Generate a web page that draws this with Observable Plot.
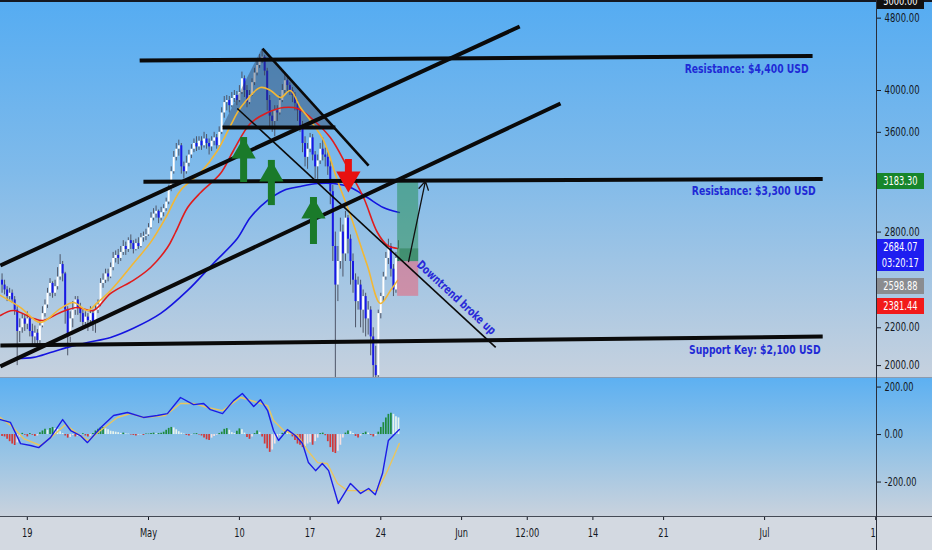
<!DOCTYPE html>
<html>
<head>
<meta charset="utf-8">
<script src="https://cdn.jsdelivr.net/npm/d3@7"></script>
<script src="https://cdn.jsdelivr.net/npm/@observablehq/plot@0.6"></script>
<style>
html,body{margin:0;padding:0;background:#d3d9e1;}
#wrap{position:relative;width:932px;height:550px;overflow:hidden;font-family:"Liberation Sans Narrow","DejaVu Sans Condensed","DejaVu Sans",sans-serif;}
.abs{position:absolute;}
#bgMain{left:0;top:0;width:932px;height:377px;background:linear-gradient(180deg,#55acf2 0%,#7fbaea 45%,#c6d1de 100%);}
#bgInd{left:0;top:377px;width:932px;height:139px;background:linear-gradient(180deg,#5cb0f2 0%,#92c2e6 50%,#c9d2dd 100%);}
#bgAxis{left:0;top:516px;width:932px;height:34px;background:#d3d9e1;}
.tag{position:absolute;left:877px;width:47px;color:#fff;font-size:11.5px;text-align:center;line-height:16px;}
.tag span{display:inline-block;transform:scaleX(0.8);}
#wrap svg{position:absolute;left:0;}
</style>
</head>
<body>
<div id="wrap">
  <div id="bgMain" class="abs"></div>
  <div id="bgInd" class="abs"></div>
  <div id="bgAxis" class="abs"></div>
</div>
<script>
// ---------- DATA ----------
const firstCandle = "04-16 12";   // 6h candles
const firstOpen = 2480;
const closes = [2450,2420,
 2380,2400,2360,2300, 2180,2200,2250,2220, 2250,2180,2150,2170, 2130,2210,2280,2330,
 2400,2460,2400,2440, 2500,2580,2520,2300, 2150,2250,2300,2360, 2310,2280,2230,2260,
 2240,2280,2220,2300, 2330,2460,2480,2520, 2500,2560,2620,2640, 2620,2660,2700,2680,
 2740,2720,2680,2720, 2700,2760,2770,2780,
 2830,2900,2930,2950, 2900,2940,2970,3020, 3120,3260,3380,3450, 3480,3300,3260,3330,
 3400,3450,3500,3470, 3520,3480,3540,3500, 3470,3520,3550,3480, 3600,3780,3880,3900,
 3850,3920,3950,3900, 3980,4120,4000,3880, 3950,4080,4180,4260, 4320,4350,4200,3900,
 3750,3700,3800,3780, 3900,4000,4100,4050, 4000,3950,3870,3800, 3650,3500,3380,3450,
 3550,3400,3300,3350, 3450,3400,3380,3300, 3100,2700,2450,2600, 2800,2650,2900,2750,
 2600,2480,2350,2450, 2300,2380,2250,2300, 2150,2000,1950,2280, 2380,2500,2620,2700,
 2550,2420,2620,2684];
const highs = [2520,2480,
 2440,2430,2420,2380, 2320,2250,2280,2270, 2290,2260,2220,2210, 2190,2240,2320,2360,
 2430,2490,2470,2480, 2560,2645,2600,2530, 2320,2290,2350,2380, 2380,2340,2300,2290,
 2280,2320,2300,2330, 2360,2490,2520,2550, 2550,2590,2660,2670, 2680,2700,2740,2730,
 2760,2780,2740,2750, 2760,2790,2800,2820,
 2860,2940,2970,2990, 2960,2980,3000,3050, 3150,3300,3430,3500, 3530,3500,3340,3390,
 3440,3490,3540,3560, 3560,3560,3600,3580, 3540,3560,3600,3580, 3650,3830,3940,3950,
 3940,3980,4000,3990, 4050,4190,4150,4050, 4000,4120,4230,4300, 4380,4420,4370,4230,
 3950,3800,3850,3850, 3950,4060,4170,4150, 4080,4030,3980,3900, 3830,3700,3560,3500,
 3590,3580,3430,3400, 3500,3550,3460,3420, 3350,3150,2800,2700, 2900,2850,2950,2920,
 2780,2650,2520,2500, 2480,2420,2400,2350, 2320,2200,2100,2300, 2400,2530,2660,2750,
 2720,2580,2660,2740];
const lows = [2400,2390,
 2350,2360,2340,2270, 2000,2120,2170,2180, 2190,2150,2100,2110, 2090,2110,2200,2260,
 2310,2380,2370,2380, 2420,2480,2470,2220, 2050,2120,2200,2270, 2270,2230,2200,2200,
 2180,2210,2180,2170, 2280,2320,2430,2460, 2470,2490,2540,2590, 2580,2600,2640,2640,
 2660,2680,2650,2670, 2680,2690,2730,2740,
 2770,2820,2880,2900, 2860,2880,2910,2950, 3000,3100,3240,3350, 3390,3240,3200,3240,
 3300,3370,3420,3430, 3440,3440,3460,3450, 3400,3430,3480,3450, 3470,3580,3730,3800,
 3780,3830,3880,3850, 3880,3960,3930,3830, 3860,3940,4050,4150, 4230,4280,4150,3800,
 3650,3600,3560,3700, 3760,3880,3970,3990, 3950,3880,3800,3700, 3600,3420,3300,3280,
 3420,3350,3200,3180, 3320,3350,3300,3230, 3000,2600,1900,2350, 2550,2500,2600,2650,
 2450,2400,2200,2300, 2200,2170,2150,2160, 2050,1900,1730,1900, 2250,2350,2480,2580,
 2500,2380,2400,2600];
const macdHist = [-8,-10,-20,-30,-40,-46,-35,-10,5,-3, -10,4,-3,-8,-6,8,15,22,18,25,
 30,26,22,12,4,-6,-15,-12,-4,-10, -8,-3,3,-6,-10,-7,4,15,22,28, 30,24,20,14,12,10,8,5,6,3,
 2,-2,-4,-6,-3,-2,-4,2,2,4, 6,3,4,6,10,18,26,30,28,20, 12,6,2,-4,-6,-2,2,4,-2,-6,
 -14,-22,-25,-15,-8,-3,4,10,22,25, 18,8,4,14,24,20,6,-12,-20,-10, 4,15,8,-10,-40,-60,-75,-65,-40,-15,
 -5,5,15,14,6,-10,-25,-40,-45,-55, -50,-40,-35,-45,-30,-15,4,6,-5,-30, -55,-75,-80,-70,-45,-15,6,15,12,4,
 -8,-15,-6,4,10,6,-4,-10,-6,10, 30,50,70,85,90,85,75,70];

const emaFast = [["04-16 08",2387],["04-18 08",2315],["04-20 07",2230],["04-22 07",2310],["04-23 14",2345],["04-24 23",2298],["04-25 23",2345],["04-27 06",2417],["04-29 12",2587],["05-01 05",2728],["05-02 16",2898],["05-04 04",3110],["05-06 04",3254],["05-07 20",3439],["05-09 03",3662],["05-10 03",3832],["05-12 02",4030],["05-13 02",4000],["05-14 02",3930],["05-15 01",4000],["05-16 01",3832],["05-17 01",3709],["05-18 08",3527],["05-19 17",3188],["05-21 00",2920],["05-22 16",2574],["05-23 23",2339],["05-24 23",2417],["05-25 16",2479]];
const emaMid = [["04-16 08",2269],["04-17 15",2298],["04-19 15",2252],["04-20 14",2241],["04-22 07",2287],["04-23 23",2315],["04-25 13",2298],["04-27 06",2399],["04-29 12",2479],["05-01 05",2561],["05-02 21",2693],["05-03 16",2797],["05-04 21",2979],["05-06 04",3094],["05-08 03",3245],["05-09 10",3439],["05-11 02",3681],["05-12 19",3784],["05-14 09",3832],["05-15 18",3823],["05-17 01",3737],["05-19 00",3553],["05-20 17",3295],["05-22 07",3055],["05-23 16",2797],["05-24 16",2707],["05-25 16",2687]];
const emaSlow = [["04-17 20",2037],["04-19 15",2042],["04-21 07",2067],["04-23 00",2094],["04-24 23",2120],["04-27 06",2147],["04-29 12",2197],["05-02 05",2281],["05-04 21",2417],["05-07 10",2587],["05-09 19",2755],["05-11 02",2905],["05-12 19",3032],["05-14 09",3110],["05-16 01",3141],["05-17 18",3164],["05-19 08",3164],["05-21 00",3133],["05-22 16",3055],["05-24 06",2979],["05-25 20",2942]];

const macdLine = [["04-16 08",63],["04-17 08",51],["04-18 08",-38],["04-19 08",-46],["04-20 03",-55],["04-21 07",-13],["04-22 12",63],["04-23 07",17],["04-24 06",-4],["04-24 23",-34],["04-26 06",29],["04-27 13",80],["04-28 22",93],["04-30 12",72],["05-01 21",80],["05-02 21",88],["05-04 04",156],["05-05 11",126],["05-06 11",131],["05-07 03",105],["05-08 08",88],["05-09 10",143],["05-10 07",173],["05-11 10",118],["05-12 02",147],["05-12 19",101],["05-13 09",17],["05-13 21",-25],["05-14 18",21],["05-15 13",-4],["05-16 06",-38],["05-16 20",-118],["05-17 13",-152],["05-18 05",-122],["05-18 20",-152],["05-19 19",-290],["05-21 00",-206],["05-22 00",-248],["05-22 19",-227],["05-23 11",-253],["05-24 04",-164],["05-24 18",-25],["05-25 20",21]];
const signalLine = [["04-16 08",72],["04-17 15",29],["04-18 15",-17],["04-20 07",-46],["04-21 14",-4],["04-22 19",42],["04-23 23",4],["04-25 01",-25],["04-26 06",17],["04-27 22",72],["04-29 05",88],["04-30 12",72],["05-02 16",80],["05-04 04",131],["05-05 11",131],["05-06 20",114],["05-08 08",101],["05-10 03",156],["05-11 19",135],["05-12 19",122],["05-13 09",59],["05-14 09",17],["05-15 18",-4],["05-16 18",-67],["05-17 18",-118],["05-18 17",-122],["05-19 17",-206],["05-20 17",-236],["05-22 00",-236],["05-23 16",-236],["05-24 16",-152],["05-25 20",-38]];

// drawings (time, price)
const thickLines = [["04-30 03",4314,"07-05 18",4364],["04-30 12",3178,"07-06 18",3200],["04-16 08",2104,"07-06 18",2152],["04-16 08",2574,"06-06 18",4700],["04-16 08",1996,"06-10 19",3871],["05-08 08",3645,"05-19 12",3645]];
const steepLine = [["05-12 07",4446,"05-22 19",3311]];
const downtrendLine = [["05-09 19",3823,"06-04 09",2094]];
const triangle = [["05-08 08",3645],["05-12 07",4446],["05-19 12",3645]];
const upArrows = [["05-10 10",3270,3553],["05-13 04",3085,3354],["05-17 08",2797,3055]];
const downArrows = [["05-20 19",3362,3094]];
const positionTimes = ["05-25 16","05-27 18"];
const targetPrice = 3183.30, lastPrice = 2684.07, entryPrice = 2598.88, stopPrice = 2381.44;
const projection = [["05-26 18",2598.88,"05-28 10",3183.30]];
const lineLabels = [["07-05 18",4364,"Resistance: $4,400 USD",-4,13],["07-06 18",3200,"Resistance: $3,300 USD",-7,12],["07-06 18",2152,"Support Key: $2,100 USD",-2,13]];
const trendLabel = ["05-27 18",2590,"Downtrend broke up"];
const priceTicks = [4800,4000,3600,2800,2200,2000];
const macdTicks = [200,0,-200];
const timeTicks = ["04-19 00","05-01 00","05-10 00","05-17 00","05-24 00","06-01 00","06-07 12","06-14 00","06-21 00","07-01 00","07-12 00"];
const timeLabels = ["19","May","10","17","24","Jun","12:00","14","21","Jul","12"];

// ---------- BUILD ----------
const FONT = '"Liberation Sans Narrow","DejaVu Sans Condensed","DejaVu Sans",sans-serif';
const T = s => new Date(`2021-${s.slice(0,5)}T${s.slice(6)}:00:00Z`);
const xDomain = [new Date("2021-04-16T08:19:00Z"), new Date("2021-07-12T01:54:00Z")];
const t0 = T(firstCandle);
const candles = closes.map((c,i)=>({t:d3.utcHour.offset(t0,6*i), o:i?closes[i-1]:firstOpen, c, h:highs[i], l:lows[i]}));
const hist = macdHist.map((v,i)=>({t:candles[i].t, v, p:i?macdHist[i-1]:v}));
const pts = arr => arr.map(([t,v])=>({t:T(t), v}));
const segs = arr => arr.map(([ta,p1,tb,p2])=>({a:T(ta),p1,b:T(tb),p2}));
const posRects = [
  {a:T(positionTimes[0]), b:T(positionTimes[1]), y1:entryPrice, y2:targetPrice, f:"#1f8c4c", o:0.5},
  {a:T(positionTimes[0]), b:T(positionTimes[1]), y1:entryPrice, y2:lastPrice, f:"#0d6628", o:0.35},
  {a:T(positionTimes[0]), b:T(positionTimes[1]), y1:stopPrice, y2:entryPrice, f:"#f0586e", o:0.5}
];
const ups = upArrows.map(([t,tail,tip])=>({t:T(t),tail,tip}));
const downs = downArrows.map(([t,tail,tip])=>({t:T(t),tail,tip}));
const tri = triangle.map(([t,p])=>({t:T(t),p,b:triangle[0][1]}));

const main = Plot.plot({
  width:932, height:378, marginLeft:0, marginRight:56, marginTop:2, marginBottom:1,
  style:{background:"transparent", fontFamily:FONT, fontSize:"11.5px", color:"#131722"},
  x:{type:"utc", domain:xDomain, axis:null},
  y:{type:"log", domain:[1941,4993]},
  marks:[
    Plot.ruleX(candles,{x:"t", y1:"l", y2:"h", stroke:"#4e5668", strokeWidth:1, clip:true}),
    Plot.ruleX(candles,{x:"t", y1:"o", y2:"c", stroke:d=>d.c>=d.o?"#ffffff":"#1818e6", strokeWidth:2, clip:true}),
    Plot.areaY(tri,{x:"t", y1:"b", y2:"p", fill:"#2c3650", fillOpacity:0.4, curve:"linear", clip:true}),
    Plot.line(pts(emaSlow),{x:"t", y:"v", stroke:"#1414e0", strokeWidth:1.6, curve:"catmull-rom", clip:true}),
    Plot.line(pts(emaMid),{x:"t", y:"v", stroke:"#e01c1c", strokeWidth:1.6, curve:"catmull-rom", clip:true}),
    Plot.line(pts(emaFast),{x:"t", y:"v", stroke:"#f2b735", strokeWidth:1.6, curve:"catmull-rom", clip:true}),
    Plot.rect(posRects,{x1:"a", x2:"b", y1:"y1", y2:"y2", fill:d=>d.f, fillOpacity:d=>d.o}),
    Plot.link(segs(thickLines),{x1:"a", y1:"p1", x2:"b", y2:"p2", stroke:"#0a0a0a", strokeWidth:4, clip:true}),
    Plot.link(segs(steepLine),{x1:"a", y1:"p1", x2:"b", y2:"p2", stroke:"#0a0a0a", strokeWidth:2.6, clip:true}),
    Plot.link(segs(downtrendLine),{x1:"a", y1:"p1", x2:"b", y2:"p2", stroke:"#0a0a0a", strokeWidth:1.6, clip:true}),
    Plot.arrow(segs(projection),{x1:"a", y1:"p1", x2:"b", y2:"p2", stroke:"#111", strokeWidth:1.3, headLength:11}),
    Plot.ruleX(ups,{x:"t", y1:"tail", y2:"tip", stroke:"#1a7a2a", strokeWidth:7, insetTop:12}),
    Plot.dot(ups,{x:"t", y:"tip", symbol:"triangle", r:9, fill:"#1a7a2a", stroke:null, dy:14}),
    Plot.ruleX(downs,{x:"t", y1:"tail", y2:"tip", stroke:"#e81010", strokeWidth:7, insetBottom:12}),
    Plot.dot(downs,{x:"t", y:"tip", symbol:"triangle", r:9, fill:"#e81010", stroke:null, rotate:180, dy:-14}),
    ...lineLabels.map(([t,p,s,dx,dy])=>Plot.text([{t:T(t),p,s}],{x:"t", y:"p", text:"s", textAnchor:"end", dx, dy, fill:"#1f2ad6", fontWeight:"bold", fontSize:12.5})),
    Plot.text([{t:T(trendLabel[0]),p:trendLabel[1],s:trendLabel[2]}],{x:"t", y:"p", text:"s", textAnchor:"start", rotate:42.7, fill:"#2a2ad8", fontWeight:"bold", fontSize:12}),
    Plot.axisY(priceTicks,{anchor:"right", label:null, tickFormat:d=>d.toFixed(2), tickSize:4, tickPadding:4, stroke:"#131722"})
  ]
});
main.style.top = "0px";

const tickDates = timeTicks.map(T);
const labelOf = new Map(tickDates.map((d,i)=>[+d, timeLabels[i]]));
const ind = Plot.plot({
  width:932, height:172, marginLeft:0, marginRight:56, marginTop:0, marginBottom:34,
  style:{background:"transparent", fontFamily:FONT, fontSize:"11.5px", color:"#131722"},
  x:{type:"utc", domain:xDomain},
  y:{domain:[-345,236]},
  marks:[
    Plot.ruleX(hist,{x:"t", y1:0, y2:"v", strokeWidth:1.7, stroke:d=>d.v>=0?(d.v>=d.p?"#1e8a3c":"#e8f4ec"):(d.v<=d.p?"#d23838":"#f8e0e0"), clip:true}),
    Plot.line(pts(signalLine),{x:"t", y:"v", stroke:"#e9c55e", strokeWidth:1.4, clip:true}),
    Plot.line(pts(macdLine),{x:"t", y:"v", stroke:"#1c1ce6", strokeWidth:1.4, clip:true}),
    Plot.axisY(macdTicks,{anchor:"right", label:null, tickFormat:d=>d.toFixed(2), tickSize:4, tickPadding:4}),
    Plot.axisX(tickDates,{anchor:"bottom", label:null, tickFormat:d=>labelOf.get(+d), tickSize:4, tickPadding:8})
  ]
});
ind.style.top = "378px";

const wrap = document.getElementById("wrap");
wrap.appendChild(main);
wrap.appendChild(ind);

// narrow the glyphs to mimic the condensed UI font
function condense(svg, f){
  svg.querySelectorAll("text").forEach(t=>{
    const L = t.getComputedTextLength();
    if (L > 0) { t.setAttribute("textLength", (L*f).toFixed(1)); t.setAttribute("lengthAdjust","spacingAndGlyphs"); }
  });
}
condense(main, 0.82);
condense(ind, 0.8);

function box(top, left, w, h, bg){const d=document.createElement("div");d.className="abs";Object.assign(d.style,{top:top+"px",left:left+"px",width:w+"px",height:h+"px",background:bg});wrap.appendChild(d);return d;}
box(0,0,932,2,"#141822");
box(377,0,932,1,"#8b9bb0");
box(516,0,932,1,"#444a55");
box(517,877,55,33,"#d3d9e1");
box(0,876,1,550,"#2a2e39");

const ys = main.scale("y");
function tag(bg, lines, top){
  const d=document.createElement("div"); d.className="tag";
  d.style.background=bg; d.style.top=top+"px"; d.style.height=(lines.length*16)+"px";
  d.innerHTML=lines.map(s=>`<span>${s}</span>`).join("<br>"); wrap.appendChild(d); return d;
}
tag("#111",["5000.00"],ys.apply(5000)-8);
tag("#17862b",[targetPrice.toFixed(2)],ys.apply(targetPrice)-8);
const blueTop = ys.apply(lastPrice)-9;
tag("#1e1ef0",[lastPrice.toFixed(2),"03:20:17"],blueTop);
tag("#8a8c90",[entryPrice.toFixed(2)],blueTop+39);
tag("#f21a1a",[stopPrice.toFixed(2)],blueTop+59);
</script>
</body>
</html>
